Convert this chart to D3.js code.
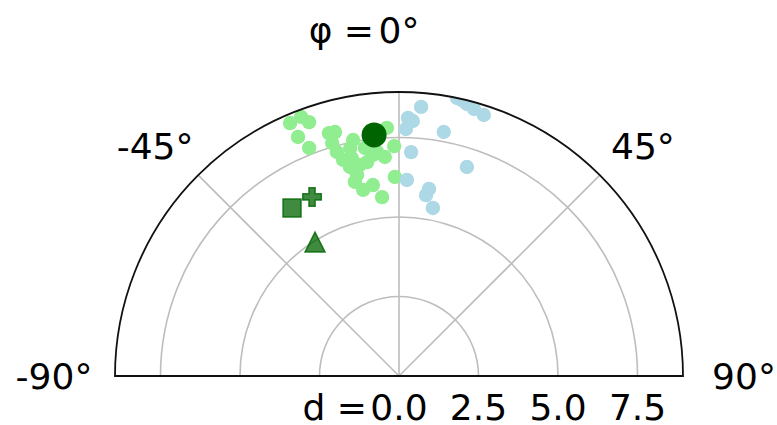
<html lang="en">
    <head>
        <meta charset="UTF-8">
        <script src="https://d3js.org/d3.v7.min.js"></script>
        <title>Polar half plot</title>
        <style>
            * {
                padding: 0;
                margin: 0;
            }
            body {
                background: white;
            }
            text {
                font-family: 'DejaVu Sans', sans-serif;
                font-size: 36px;
                fill: #000;
            }
        </style>
    </head>
    <body>
        <div class="chart"></div>

        <script>
            // angle phi in degrees, distance d
            const greenPhi = [-23.3, -20.7, -19.5, -22.9, -21.5, -16.1, -14.7, -16.0, -15.5, -14.5,
                              -12.2, -11.0, -8.5, -8.5, -13.2, -11.8, -12.8, -10.9, -7.8, -5.4,
                              -2.8, -1.2, -3.7, -5.6, -1.2, -6.7, -10.5, -12.1, -7.2];
            const greenD = [8.66, 8.71, 8.47, 8.16, 7.71, 7.95, 7.93, 7.62, 7.31, 7.02,
                            7.01, 7.56, 7.25, 6.80, 6.75, 6.46, 6.26, 5.96, 6.06, 5.65,
                            7.81, 7.23, 6.90, 7.08, 6.26, 7.00, 6.75, 7.33, 7.32];

            const bluePhi = [4.7, 2.0, 3.1, 1.6, 10.4, 3.1, 18.0, 2.3, 9.1, 8.5,
                             11.4, 11.8, 12.9, 14.0, 15.7, 18.0];
            const blueD = [8.49, 8.12, 8.03, 7.77, 7.80, 7.05, 6.91, 6.17, 5.96, 5.75,
                           5.39, 8.93, 8.90, 8.82, 8.72, 8.63];

            // mean point and the three reference markers
            const meanPoint = [-5.9, 7.62];
            const refNames = ['square', 'plus', 'triangle'];
            const refPhi = [-32.5, -25.9, -32.1];
            const refD = [6.26, 6.26, 4.97];

            const radialTicks = [0, 2.5, 5.0, 7.5];
            const angleTicks = [-90, -45, 0, 45, 90];
            const rMax = 8.93;

            const w = 777;
            const h = 425;
            const cx = 399;
            const cy = 376;
            const R = 284;

            const svg = d3.select('.chart').append('svg')
                .attr('width', w)
                .attr('height', h);

            const r = d3.scaleLinear().domain([0, rMax]).range([0, R]);
            const rad = (deg) => deg * Math.PI / 180;
            const px = (phi, d) => cx + r(d) * Math.sin(rad(phi));
            const py = (phi, d) => cy - r(d) * Math.cos(rad(phi));

            // clip to the half disk
            const halfDisk = d3.arc()
                .innerRadius(0)
                .outerRadius(R)
                .startAngle(-Math.PI / 2)
                .endAngle(Math.PI / 2);

            svg.append('clipPath')
                .attr('id', 'clip')
                .append('path')
                .attr('transform', 'translate(' + cx + ',' + cy + ')')
                .attr('d', halfDisk);

            const grid = svg.append('g')
                .attr('transform', 'translate(' + cx + ',' + cy + ')')
                .attr('fill', 'none')
                .attr('stroke', '#bdbdbd')
                .attr('stroke-width', 1.6);

            grid.selectAll('.ring')
                .data(radialTicks.filter((t) => t > 0))
                .enter()
                .append('path')
                .attr('class', 'ring')
                .attr('d', (t) => d3.arc()
                    .innerRadius(r(t))
                    .outerRadius(r(t))
                    .startAngle(-Math.PI / 2)
                    .endAngle(Math.PI / 2)());

            grid.selectAll('.ray')
                .data(angleTicks.filter((a) => Math.abs(a) < 90))
                .enter()
                .append('line')
                .attr('class', 'ray')
                .attr('x1', 0)
                .attr('y1', 0)
                .attr('x2', (a) => R * Math.sin(rad(a)))
                .attr('y2', (a) => -R * Math.cos(rad(a)));

            // points
            const pts = svg.append('g').attr('clip-path', 'url(#clip)');

            pts.selectAll('.green')
                .data(greenPhi.map((p, i) => [p, greenD[i]]))
                .enter()
                .append('circle')
                .attr('class', 'green')
                .attr('cx', (d) => px(d[0], d[1]))
                .attr('cy', (d) => py(d[0], d[1]))
                .attr('r', 7.2)
                .attr('fill', 'lightgreen');

            pts.selectAll('.blue')
                .data(bluePhi.map((p, i) => [p, blueD[i]]))
                .enter()
                .append('circle')
                .attr('class', 'blue')
                .attr('cx', (d) => px(d[0], d[1]))
                .attr('cy', (d) => py(d[0], d[1]))
                .attr('r', 7.2)
                .attr('fill', 'lightblue');

            pts.append('circle')
                .attr('cx', px(meanPoint[0], meanPoint[1]))
                .attr('cy', py(meanPoint[0], meanPoint[1]))
                .attr('r', 12.5)
                .attr('fill', 'darkgreen');

            function markerPath(name) {
                if (name === 'square') {
                    return d3.symbol().type(d3.symbolSquare).size(18 * 18)();
                }
                if (name === 'plus') {
                    return d3.symbol().type(d3.symbolCross).size(190)();
                }
                // matplotlib style triangle: bbox centred
                return 'M0,-10L10,10L-10,10Z';
            }

            pts.selectAll('.ref')
                .data(refNames.map((n, i) => [refPhi[i], refD[i], n]))
                .enter()
                .append('path')
                .attr('class', 'ref')
                .attr('transform', (d) => 'translate(' + px(d[0], d[1]) + ',' + py(d[0], d[1]) + ')')
                .attr('d', (d) => markerPath(d[2]))
                .attr('fill', 'darkgreen')
                .attr('fill-opacity', 0.75)
                .attr('stroke', 'darkgreen')
                .attr('stroke-opacity', 0.8)
                .attr('stroke-width', 1.5);

            // outer spine
            svg.append('path')
                .attr('transform', 'translate(' + cx + ',' + cy + ')')
                .attr('d', halfDisk() )
                .attr('fill', 'none')
                .attr('stroke', '#111')
                .attr('stroke-width', 1.8);

            // angle labels: a bit closer vertically near the diagonals
            const labelRx = () => R + 61;
            const labelRy = (a) => R + 62 - 21 * Math.abs(Math.sin(rad(2 * a)));

            svg.selectAll('.alabel')
                .data(angleTicks)
                .enter()
                .append('text')
                .attr('class', 'alabel')
                .attr('text-anchor', 'middle')
                .attr('dy', '0.36em')
                .attr('x', (a) => cx + labelRx(a) * Math.sin(rad(a)))
                .attr('y', (a) => cy - labelRy(a) * Math.cos(rad(a)))
                .text((a) => a + '°');

            svg.append('text')
                .attr('text-anchor', 'end')
                .attr('x', cx - 25)
                .attr('y', cy - R - 62)
                .attr('dy', '0.36em')
                .text('φ =');

            // radial labels
            svg.selectAll('.rlabel')
                .data(radialTicks)
                .enter()
                .append('text')
                .attr('class', 'rlabel')
                .attr('text-anchor', 'middle')
                .attr('x', (t) => cx + r(t))
                .attr('y', cy + 44)
                .text((t) => t.toFixed(1));

            svg.append('text')
                .attr('text-anchor', 'end')
                .attr('x', cx - 32)
                .attr('y', cy + 44)
                .text('d =');
        </script>
    </body>
</html>
